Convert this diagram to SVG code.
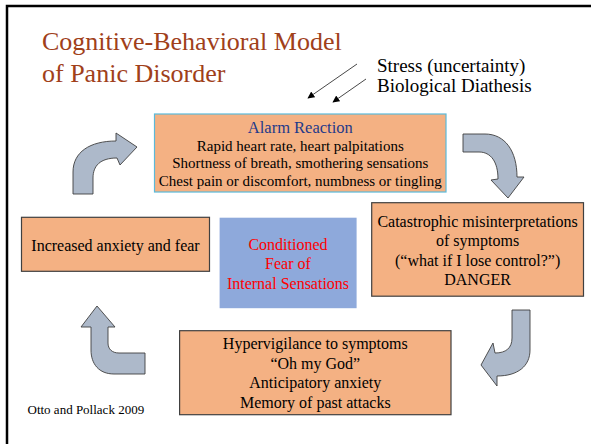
<svg xmlns="http://www.w3.org/2000/svg" width="591" height="444" viewBox="0 0 591 444">
<defs>
<style>
.t{font-family:"Liberation Serif","Times New Roman",serif;fill:#000}
.c{text-anchor:middle}
.box{fill:#F4B183;stroke:#404040;stroke-width:1.2}
.arr{fill:#ADB9CA;stroke:#3F3F3F;stroke-width:0.9;stroke-linejoin:round}
.ln{stroke:#333;stroke-width:0.9;fill:none;marker-end:url(#ah)}
</style>
<marker id="ah" viewBox="0 0 10 10" refX="9" refY="5" markerWidth="7" markerHeight="7" orient="auto" markerUnits="userSpaceOnUse">
<path d="M0,0 L10,5 L0,10 Z" fill="#000"/>
</marker>
</defs>
<rect width="591" height="444" fill="#fff"/>
<path d="M7,444 L7,6 L591,6" fill="none" stroke="#000" stroke-width="2.5"/>

<g id="title">
<text class="t" x="42" y="50" font-size="26" style="fill:#A0401A">Cognitive-Behavioral Model</text>
<text class="t" x="42" y="82" font-size="26" style="fill:#A0401A">of Panic Disorder</text>
</g>

<g id="stress">
<text class="t" x="377" y="72" font-size="19">Stress (uncertainty)</text>
<text class="t" x="377" y="92" font-size="19">Biological Diathesis</text>
</g>

<g id="connectors">
<line class="ln" x1="357" y1="64" x2="308" y2="98"/>
<line class="ln" x1="366" y1="79" x2="333" y2="102"/>
<path class="arr" d="M73,194 L73,172 C73,152 90,141 116,141 L116,133 L137,147 L120,165 L117,158 C100,158 93,166 93,178 L93,194 Z"/>
<path class="arr" d="M463,134 L485,134 C505,134 517,151 517,177 L524,177 L508,198 L491,180 L498,179 C498,162 491,152 479,152 L463,152 Z"/>
<path class="arr" d="M530,310 L530,350 C530,366 518,376 497,376 L497,386 L481,365 L493,343 L495,353 C506,353 512,348 512,338 L512,310 Z"/>
<path class="arr" d="M145,353 L145,374 L114,374 C99,374 91,364 91,350 L91,327 L81,327 L97,306 L115,327 L108,327 L108,343 C108,349 112,353 119,353 Z"/>
</g>

<g id="alarm">
<rect x="154.5" y="114" width="291.5" height="78" fill="#F4B183" stroke="#5BB9D9" stroke-width="1.2"/>
<text class="t c" x="300.3" y="133" font-size="16.5" style="fill:#1F3A8A">Alarm Reaction</text>
<text class="t c" x="300.3" y="150.5" font-size="15">Rapid heart rate, heart palpitations</text>
<text class="t c" x="300.3" y="168" font-size="15">Shortness of breath, smothering sensations</text>
<text class="t c" x="300.3" y="185.5" font-size="15">Chest pain or discomfort, numbness or tingling</text>
</g>

<g id="increased">
<rect class="box" x="21.5" y="217.3" width="188" height="54"/>
<text class="t c" x="115.5" y="251" font-size="16">Increased anxiety and fear</text>
</g>

<g id="conditioned">
<rect x="219.6" y="217.7" width="137" height="90.5" fill="#8EA9DB"/>
<text class="t c" x="288" y="249.5" font-size="16" style="fill:#FF0000">Conditioned</text>
<text class="t c" x="288" y="269" font-size="16" style="fill:#FF0000">Fear of</text>
<text class="t c" x="288" y="288.5" font-size="16" style="fill:#FF0000">Internal Sensations</text>
</g>

<g id="catastrophic">
<rect class="box" x="371.7" y="202.7" width="211.8" height="93.5"/>
<text class="t c" x="477.6" y="227" font-size="16">Catastrophic misinterpretations</text>
<text class="t c" x="477.6" y="246.3" font-size="16">of symptoms</text>
<text class="t c" x="477.6" y="265.6" font-size="16">(“what if I lose control?”)</text>
<text class="t c" x="477.6" y="285" font-size="16">DANGER</text>
</g>

<g id="hypervigilance">
<rect class="box" x="179.6" y="330.7" width="271.4" height="84"/>
<text class="t c" x="315.3" y="349" font-size="16">Hypervigilance to symptoms</text>
<text class="t c" x="315.3" y="368.5" font-size="16">“Oh my God”</text>
<text class="t c" x="315.3" y="388" font-size="16">Anticipatory anxiety</text>
<text class="t c" x="315.3" y="407.5" font-size="16">Memory of past attacks</text>
</g>

<g id="citation">
<text class="t" x="27.5" y="414" font-size="13">Otto and Pollack 2009</text>
</g>
</svg>
